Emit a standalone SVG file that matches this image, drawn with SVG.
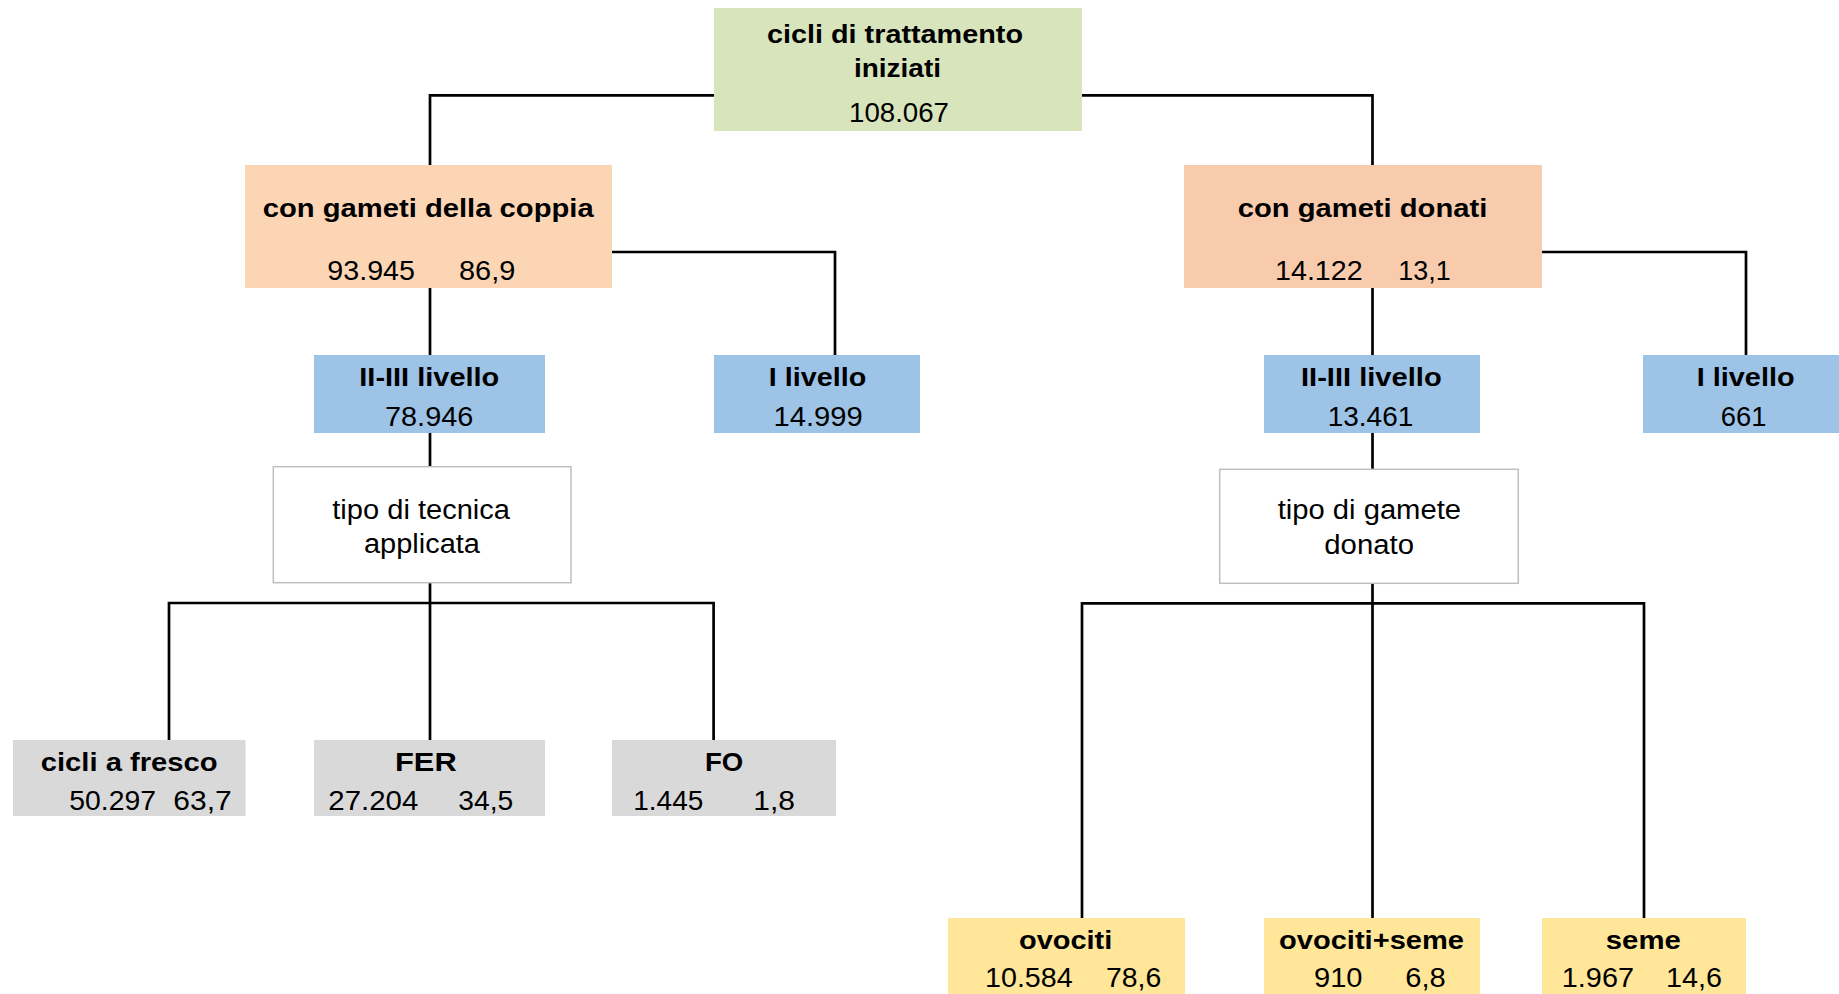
<svg xmlns="http://www.w3.org/2000/svg" width="1839" height="994" viewBox="0 0 1839 994">
<style>
text{font-family:"Liberation Sans",Arial,sans-serif;fill:#000}
.b{font-weight:bold;font-size:26px}
.r{font-size:27px}
.conn path{fill:none;stroke:#000;stroke-width:2.7}
.green{fill:#D8E4BC}
.peachL{fill:#FCD5B5}
.peachR{fill:#F8CBAD}
.blue{fill:#9DC3E6}
.grey{fill:#D9D9D9}
.yellow{fill:#FFE699}
.frame{fill:#fff;stroke:#BFBFBF;stroke-width:1.5}
</style>
<rect width="1839" height="994" fill="#fff"/>
<g class="conn" id="connectors">
<path d="M714,95.3 H430 V165"/>
<path d="M1082,95.3 H1372.5 V165"/>
<path d="M612,252 H835 V355"/>
<path d="M430,288 V355"/>
<path d="M430,433 V467"/>
<path d="M430,583 V740"/>
<path d="M169,740 V603 H713.6 V740"/>
<path d="M1542,252 H1746 V355"/>
<path d="M1372.5,288 V355"/>
<path d="M1372.5,433 V469"/>
<path d="M1372.5,583.5 V918"/>
<path d="M1082,918 V603.4 H1644 V918"/>
</g>
<g id="root">
<rect class="green" x="714" y="8" width="368" height="123"/>
<text class="b" x="767" y="43.3" textLength="256" lengthAdjust="spacingAndGlyphs">cicli di trattamento</text>
<text class="b" x="854" y="77.3" textLength="87" lengthAdjust="spacingAndGlyphs">iniziati</text>
<text class="r" x="849" y="122" textLength="100" lengthAdjust="spacingAndGlyphs">108.067</text>
</g>
<g id="coppia">
<rect class="peachL" x="245" y="165" width="367" height="123"/>
<text class="b" x="262.7" y="216.7" textLength="331" lengthAdjust="spacingAndGlyphs">con gameti della coppia</text>
<text class="r" x="327.3" y="280" textLength="87.7" lengthAdjust="spacingAndGlyphs">93.945</text>
<text class="r" x="459" y="280" textLength="56.3" lengthAdjust="spacingAndGlyphs">86,9</text>
</g>
<g id="donati">
<rect class="peachR" x="1184" y="165" width="358" height="123"/>
<text class="b" x="1237.7" y="216.7" textLength="249.6" lengthAdjust="spacingAndGlyphs">con gameti donati</text>
<text class="r" x="1275" y="280" textLength="87.7" lengthAdjust="spacingAndGlyphs">14.122</text>
<text class="r" x="1398.3" y="280" textLength="52.4" lengthAdjust="spacingAndGlyphs">13,1</text>
</g>
<g id="coppia-II-III">
<rect class="blue" x="314" y="355" width="231" height="78"/>
<text class="b" x="359.3" y="386" textLength="140" lengthAdjust="spacingAndGlyphs">II-III livello</text>
<text class="r" x="385" y="426" textLength="88.3" lengthAdjust="spacingAndGlyphs">78.946</text>
</g>
<g id="coppia-I">
<rect class="blue" x="714" y="355" width="206" height="78"/>
<text class="b" x="768.8" y="386" textLength="97.4" lengthAdjust="spacingAndGlyphs">I livello</text>
<text class="r" x="773.5" y="426" textLength="89.2" lengthAdjust="spacingAndGlyphs">14.999</text>
</g>
<g id="donati-II-III">
<rect class="blue" x="1264" y="355" width="216" height="78"/>
<text class="b" x="1301" y="386" textLength="140.7" lengthAdjust="spacingAndGlyphs">II-III livello</text>
<text class="r" x="1327.7" y="426" textLength="85.6" lengthAdjust="spacingAndGlyphs">13.461</text>
</g>
<g id="donati-I">
<rect class="blue" x="1643" y="355" width="202" height="78"/>
<text class="b" x="1696.7" y="386" textLength="97.9" lengthAdjust="spacingAndGlyphs">I livello</text>
<text class="r" x="1720.7" y="426" textLength="45.7" lengthAdjust="spacingAndGlyphs">661</text>
</g>
<g id="tecnica">
<rect class="frame" x="273.3" y="466.7" width="297.7" height="116"/>
<text class="r" x="332.3" y="518.5" textLength="177.7" lengthAdjust="spacingAndGlyphs">tipo di tecnica</text>
<text class="r" x="364" y="552.7" textLength="116" lengthAdjust="spacingAndGlyphs">applicata</text>
</g>
<g id="gamete">
<rect class="frame" x="1219.7" y="469.3" width="298.6" height="114"/>
<text class="r" x="1277.7" y="519" textLength="183.3" lengthAdjust="spacingAndGlyphs">tipo di gamete</text>
<text class="r" x="1324.3" y="553.5" textLength="89.7" lengthAdjust="spacingAndGlyphs">donato</text>
</g>
<g id="fresco">
<rect class="grey" x="13" y="740" width="232.5" height="76"/>
<text class="b" x="40.7" y="770.7" textLength="177" lengthAdjust="spacingAndGlyphs">cicli a fresco</text>
<text class="r" x="69.3" y="810" textLength="86.7" lengthAdjust="spacingAndGlyphs">50.297</text>
<text class="r" x="173.3" y="810" textLength="58.4" lengthAdjust="spacingAndGlyphs">63,7</text>
</g>
<g id="fer">
<rect class="grey" x="314" y="740" width="231" height="76"/>
<text class="b" x="395" y="770.7" textLength="61.7" lengthAdjust="spacingAndGlyphs">FER</text>
<text class="r" x="328.3" y="810" textLength="90" lengthAdjust="spacingAndGlyphs">27.204</text>
<text class="r" x="458.3" y="810" textLength="55" lengthAdjust="spacingAndGlyphs">34,5</text>
</g>
<g id="fo">
<rect class="grey" x="612" y="740" width="224" height="76"/>
<text class="b" x="705" y="770.7" textLength="38.3" lengthAdjust="spacingAndGlyphs">FO</text>
<text class="r" x="633.3" y="810" textLength="70" lengthAdjust="spacingAndGlyphs">1.445</text>
<text class="r" x="753.3" y="810" textLength="41.7" lengthAdjust="spacingAndGlyphs">1,8</text>
</g>
<g id="ovociti">
<rect class="yellow" x="948" y="918" width="237" height="76"/>
<text class="b" x="1019" y="949.3" textLength="93.3" lengthAdjust="spacingAndGlyphs">ovociti</text>
<text class="r" x="985" y="987.3" textLength="87.7" lengthAdjust="spacingAndGlyphs">10.584</text>
<text class="r" x="1106" y="987.3" textLength="55.3" lengthAdjust="spacingAndGlyphs">78,6</text>
</g>
<g id="ovociti-seme">
<rect class="yellow" x="1264" y="918" width="216" height="76"/>
<text class="b" x="1279" y="949.3" textLength="185" lengthAdjust="spacingAndGlyphs">ovociti+seme</text>
<text class="r" x="1314" y="987.3" textLength="48.5" lengthAdjust="spacingAndGlyphs">910</text>
<text class="r" x="1405.3" y="987.3" textLength="40.5" lengthAdjust="spacingAndGlyphs">6,8</text>
</g>
<g id="seme">
<rect class="yellow" x="1542" y="918" width="204" height="76"/>
<text class="b" x="1605.8" y="949.3" textLength="75" lengthAdjust="spacingAndGlyphs">seme</text>
<text class="r" x="1561.8" y="987.3" textLength="72.2" lengthAdjust="spacingAndGlyphs">1.967</text>
<text class="r" x="1666" y="987.3" textLength="56" lengthAdjust="spacingAndGlyphs">14,6</text>
</g>
</svg>
